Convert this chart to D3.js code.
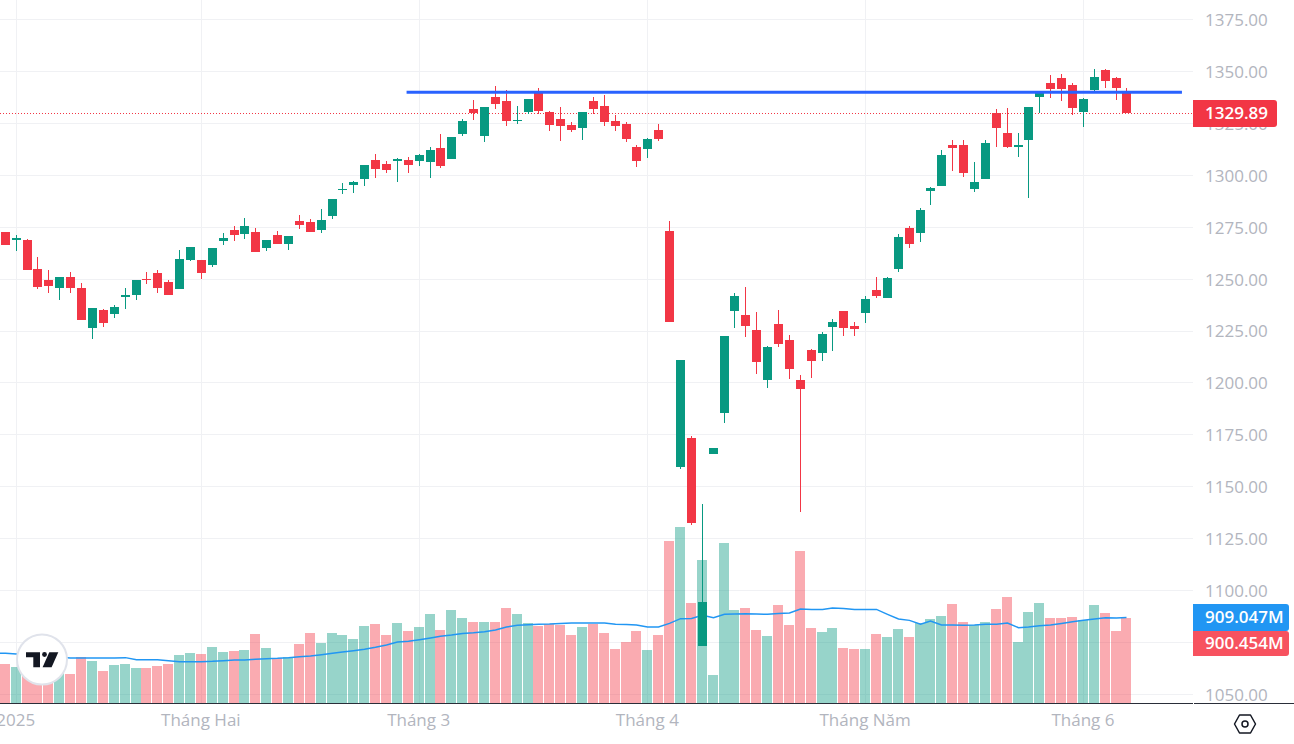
<!DOCTYPE html>
<html>
<head>
<meta charset="utf-8">
<script src="https://cdn.jsdelivr.net/npm/d3@7"></script>
<style>
  html, body { margin: 0; padding: 0; background: #fff; overflow: hidden; }
  text { font-family: "Open Sans", sans-serif; }
</style>
</head>
<body>
<div id="chart"></div>
<script>
var opens = [
  1272.7,1268.8,1268.8,1254.9,1249.6,1245.8,1251,1245.8,1226.5,1235.2,
  1233.3,1241.4,1242.4,1250.1,1253,1248.7,1245.3,1259.2,1259.2,1256.8,
  1268.4,1273.6,1271.7,1272.7,1265,1271.2,1266.9,1278,1277.5,1273.6,
  1280.4,1293,1295.2,1298.1,1307.2,1305.3,1306.7,1307.2,1306.7,1306.3,
  1313,1307.7,1319.7,1331.8,1318.8,1337.5,1335.6,1326,1330.3,1340.4,
  1330.3,1326.9,1324,1322.6,1335.6,1333.2,1326,1324.5,1313.5,1312.5,
  1321.7,1273.2,1159.3,1173.7,1073.2,1166,1185.7,1234.8,1232.9,1225.6,
  1201.6,1228.5,1220.8,1201.6,1216,1214.6,1227.1,1234.8,1227.6,1233.8,
  1244.9,1241,1255,1274.7,1272.2,1292.4,1294.8,1314.5,1314.5,1293.4,
  1298.2,1329.9,1320.3,1313.5,1316.9,1337.6,1344.3,1346.7,1343.4,1330.4,
  1341,1350.6,1346.7,1339.5
];
var closes = [
  1266.4,1270,1254.4,1246.2,1246.7,1251,1245.8,1230.4,1236.1,1228.9,
  1236.6,1242.4,1249.6,1249.6,1245.8,1242.4,1259.7,1265.6,1253,1265,
  1269.8,1271.2,1275.6,1263,1268.8,1266.9,1270.7,1276,1272.7,1278.4,
  1288.5,1293.3,1296.7,1304.8,1302.9,1302.4,1307.7,1304.8,1309.6,1312,
  1304.3,1318.3,1326,1329.8,1332.7,1334.2,1326,1326.8,1336.6,1330.8,
  1324,1323.6,1321.7,1330.3,1331.8,1325.5,1323.6,1317.3,1306.7,1317.3,
  1317.3,1229.5,1211.2,1132.8,1094.4,1168.9,1222.8,1242,1227.6,1210.2,
  1217.5,1218.9,1206.9,1197.3,1210.7,1223.7,1229.5,1226.6,1226.1,1240.5,
  1242,1250.6,1270.4,1267,1283.3,1293.8,1309.7,1313.1,1301,1296.7,
  1315.5,1322.7,1313.5,1314.5,1332.8,1340,1341.4,1341.4,1332.3,1336.6,
  1347.2,1345.3,1341.9,1329.89
];
var highs = [
  1272.7,1271.2,1269.3,1260.7,1254.4,1251,1253.4,1248.2,1236.1,1235.7,
  1237.6,1245.8,1249.6,1253.4,1254.4,1249.6,1264,1265.6,1259.2,1265,
  1272.2,1275.6,1279.4,1274.6,1268.8,1273.2,1270.7,1280.9,1278.9,1283.7,
  1288.5,1296.2,1297.1,1304.8,1310.1,1306.7,1308.2,1308.7,1310.1,1313.5,
  1319.7,1318.3,1326.9,1336.1,1332.7,1342.8,1340.9,1333.2,1336.6,1341.8,
  1330.8,1332.7,1325.5,1330.3,1337.5,1338.5,1328.9,1325.5,1314.4,1317.8,
  1324.5,1278,1211.2,1174.7,1141.7,1168.9,1222.8,1243.4,1246.3,1234.3,
  1218,1235.3,1223.2,1204,1216.5,1224.7,1230.9,1234.8,1229.5,1242,
  1251.1,1251.1,1271.8,1275.6,1284.2,1294.3,1312.1,1316.9,1316.9,1306.3,
  1316.9,1331.8,1332.3,1320.3,1332.8,1340,1348.2,1348.6,1344.3,1337.1,
  1351,1351,1347.2,1341.9
];
var lows = [
  1266.4,1263.5,1254.4,1245.3,1243.4,1240,1243.4,1230.4,1221.2,1227,
  1231.3,1235.7,1240,1247.7,1243.4,1242.4,1245.3,1258.7,1250.1,1255.9,
  1266.4,1268.4,1269.3,1263,1263.5,1266.9,1264,1274.1,1272.7,1272.2,
  1278.9,1290.9,1291.4,1294.7,1298.6,1301,1296.7,1301,1304.3,1298.6,
  1303.4,1307.7,1318.8,1326.5,1315.9,1331.8,1323.6,1324.5,1329.3,1329.3,
  1321.2,1316.4,1320.7,1316.8,1329.3,1323.6,1321.2,1315.9,1303.9,1308.2,
  1316.4,1229.5,1158.8,1131.4,1073.2,1166,1180.9,1226.6,1222.3,1204.5,
  1197.8,1217.5,1202.1,1137.7,1202.6,1210.7,1215.5,1222.8,1222.8,1229,
  1241,1241,1253.5,1265,1267.9,1285.7,1294.8,1302,1299.1,1291.9,
  1298.2,1313.5,1313.1,1308.7,1289,1329.9,1337.1,1335.7,1328.9,1323.2,
  1339.5,1341.9,1336.1,1329.89
];
// volume in millions
var volumes = [
  417,385,441,353,335,459,311,491,448,342,
  406,417,374,374,395,417,512,533,522,597,
  544,554,565,734,586,480,491,628,745,639,
  745,724,681,819,840,724,847,762,805,943,
  773,985,900,858,858,858,1006,943,847,815,
  837,826,720,805,837,741,572,646,762,561,
  720,1716,1864,1059,1514,297,1694,985,1006,773,
  710,1038,826,1610,794,752,794,582,572,572,
  731,699,784,699,847,890,921,1048,858,826,
  858,995,1123,646,964,1059,900,900,911,879,
  1038,953,762,900.454
];
var volumeMa = [
  530,522,512,501,494,487,480,480,480,480,
  480,484,462,462,462,452,441,441,441,445,
  452,459,459,466,473,477,484,494,501,515,
  530,544,558,572,593,618,650,657,674,692,
  710,724,741,748,759,777,808,826,833,837,
  840,847,851,851,851,851,837,836,830,808,
  808,847,897,900,932,907,943,946,950,946,
  943,953,957,999,995,995,1010,1006,995,995,
  995,943,893,879,837,872,830,830,826,830,
  837,837,851,801,808,822,830,847,865,879,
  893,907,904,909.047
];
var priceTicks = [1375,1350,1325,1300,1275,1250,1225,1200,1175,1150,1125,1100,1075,1050];
var monthIdx = [1,18,38,59,79,99];
var monthLabels = ["2025","Tháng Hai","Tháng 3","Tháng 4","Tháng Năm","Tháng 6"];
var levelPrice = 1340;
var levelFrom = 36.8, levelTo = 108;

var width = 1294, height = 744;
var plotRight = 1193, baseY = 703;
var UP = "#089981", DOWN = "#f23645";

var svg = d3.select("#chart").append("svg")
  .attr("width", width).attr("height", height)
  .style("display", "block");

var x = d3.scaleLinear().domain([0, 103]).range([5.825, 1127.495]);
var y = d3.scaleLinear().domain([1375, 1050]).range([19.5, 694.5]);
var v = d3.scaleLinear().domain([0, 2000]).range([baseY + 0.3, baseY + 0.3 - 188.7]);

function left(i) { return Math.floor(x(i) - 4.5); }
function mid(i) { return left(i) + 4.5; }
function isUp(i) { return closes[i] >= opens[i]; }
var idx = d3.range(opens.length);

// grid
var grid = svg.append("g").attr("stroke", "#f0f1f4").attr("stroke-width", 1);
grid.selectAll(".h").data(priceTicks).join("line")
  .attr("x1", 0).attr("x2", plotRight)
  .attr("y1", function(d) { return Math.floor(y(d)) + 0.5; })
  .attr("y2", function(d) { return Math.floor(y(d)) + 0.5; });
grid.selectAll(".v").data(monthIdx).join("line")
  .attr("x1", mid).attr("x2", mid)
  .attr("y1", 0).attr("y2", baseY);

// volume
svg.append("g").selectAll("rect").data(idx).join("rect")
  .attr("x", function(i) { return left(i) - 1; })
  .attr("width", 10)
  .attr("y", function(i) { return v(volumes[i]); })
  .attr("height", function(i) { return baseY - v(volumes[i]); })
  .attr("fill", function(i) { return isUp(i) ? UP : DOWN; })
  .attr("fill-opacity", 0.42)
  .attr("shape-rendering", "crispEdges");

// MA, starts off the left edge
var maLine = d3.line()
  .x(function(d, i) { return i === 0 ? 0 : mid(i - 1); })
  .y(function(d) { return v(d); });
svg.append("path")
  .datum([volumeMa[0]].concat(volumeMa))
  .attr("d", maLine)
  .attr("fill", "none")
  .attr("stroke", "#2196f3")
  .attr("stroke-width", 1.5);

// last price line
svg.append("line")
  .attr("x1", 0).attr("x2", plotRight)
  .attr("y1", Math.round(y(closes[103])) + 0.5)
  .attr("y2", Math.round(y(closes[103])) + 0.5)
  .attr("stroke", DOWN)
  .attr("stroke-dasharray", "1 2");

// candles
var candles = svg.append("g").attr("shape-rendering", "crispEdges");
candles.selectAll(".wick").data(idx).join("rect")
  .attr("x", function(i) { return left(i) + 4; })
  .attr("width", 1)
  .attr("y", function(i) { return Math.round(y(highs[i])); })
  .attr("height", function(i) { return Math.max(1, Math.round(y(lows[i])) - Math.round(y(highs[i]))); })
  .attr("fill", function(i) { return isUp(i) ? UP : DOWN; });
candles.selectAll(".body").data(idx).join("rect")
  .attr("x", left)
  .attr("width", 9)
  .attr("y", function(i) { return Math.round(y(Math.max(opens[i], closes[i]))); })
  .attr("height", function(i) {
    return Math.max(1, Math.round(y(Math.min(opens[i], closes[i]))) - Math.round(y(Math.max(opens[i], closes[i]))));
  })
  .attr("fill", function(i) { return isUp(i) ? UP : DOWN; });

// horizontal level
svg.append("line")
  .attr("x1", x(levelFrom)).attr("x2", x(levelTo))
  .attr("y1", y(levelPrice)).attr("y2", y(levelPrice))
  .attr("stroke", "#2962ff").attr("stroke-width", 3);

// axes
var yAxis = d3.axisRight(y).tickValues(priceTicks).tickSize(0).tickPadding(0)
  .tickFormat(d3.format(".2f"));
var yG = svg.append("g").attr("transform", "translate(1205,0.5)").call(yAxis);
yG.select(".domain").remove();
yG.selectAll("text").attr("fill", "#b2b5be").style("font-size", "17px");

var xAxis = d3.axisBottom(x).tickValues(monthIdx).tickSize(0).tickPadding(0)
  .tickFormat(function(d) { return monthLabels[monthIdx.indexOf(d)]; });
var xG = svg.append("g").attr("transform", "translate(-1.5,714)").call(xAxis);
xG.select(".domain").remove();
xG.selectAll("text").attr("fill", "#b2b5be").style("font-size", "17px");

// scale borders
svg.append("line").attr("x1", 0).attr("x2", plotRight).attr("y1", baseY + 0.5).attr("y2", baseY + 0.5)
  .attr("stroke", "#2a2e39");
svg.append("line").attr("x1", plotRight + 1).attr("x2", width).attr("y1", baseY + 0.5).attr("y2", baseY + 0.5)
  .attr("stroke", "#2a2e39");

// value tags
function tag(yTop, h, w, fill, label) {
  var r = 3;
  svg.append("path")
    .attr("d", "M" + plotRight + "," + yTop + "h" + (w - r) + "a" + r + "," + r + " 0 0 1 " + r + "," + r +
      "v" + (h - 2 * r) + "a" + r + "," + r + " 0 0 1 " + (-r) + "," + r + "h" + (r - w) + "z")
    .attr("fill", fill);
  svg.append("text")
    .attr("x", 1205).attr("y", yTop + h / 2).attr("dy", "0.35em")
    .attr("fill", "#fff").style("font-size", "17px").style("font-weight", 600)
    .text(label);
}
tag(100, 27, 84, DOWN, d3.format(".2f")(closes[103]));
tag(604, 27, 96, "#2196f3", d3.format(".3f")(volumeMa[103]) + "M");
tag(631, 25, 96, "#f7525f", d3.format(".3f")(volumes[103]) + "M");

// TradingView logo
var logo = svg.append("g").attr("transform", "translate(42,659.5)");
logo.append("circle").attr("r", 25).attr("fill", "#fff")
  .attr("stroke", "#e0e3eb").attr("stroke-width", 2);
logo.append("path").attr("fill", "#131722")
  .attr("d", "M-16,-7.3H-2V7.7H-8.7V-2.3H-16Z");
logo.append("circle").attr("cx", 2.5).attr("cy", -5).attr("r", 2.4).attr("fill", "#131722");
logo.append("path").attr("fill", "#131722")
  .attr("d", "M7.3,-7.3H16.3L9.6,7.7H0.6Z");

// settings icon
var gear = svg.append("g").attr("transform", "translate(1245,724)")
  .attr("fill", "none").attr("stroke", "#131722").attr("stroke-width", 1.5);
gear.append("path").attr("d", "M-10.5,0L-5.5,-9H5.5L10.5,0L5.5,9H-5.5Z").attr("stroke-linejoin", "round");
gear.append("circle").attr("r", 3);
</script>
</body>
</html>
